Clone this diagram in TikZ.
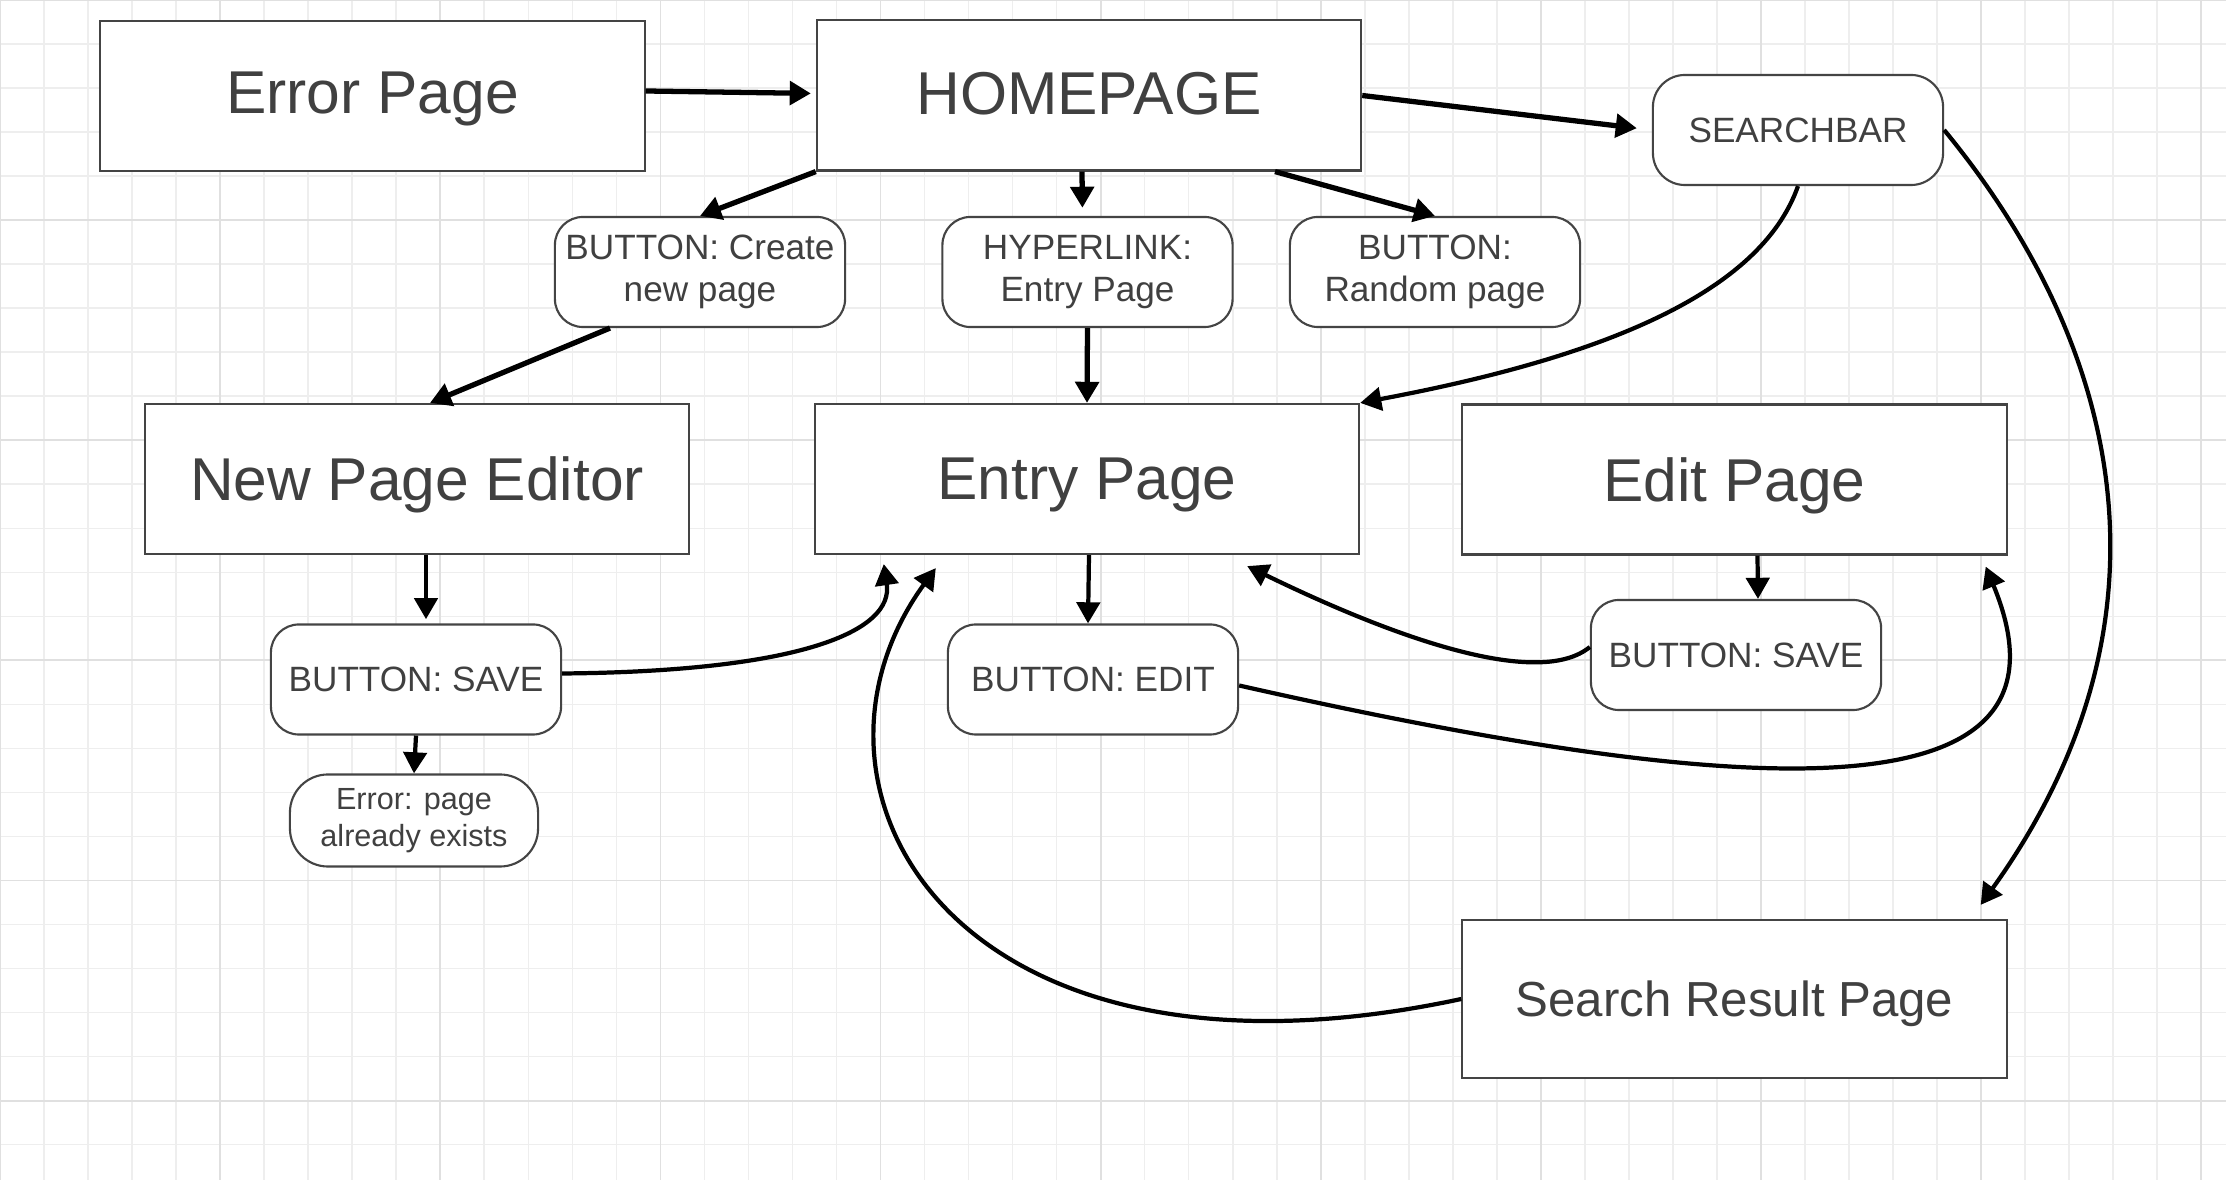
\documentclass[tikz,border=0pt]{standalone}
\usepackage{fontspec}
\setmainfont{Liberation Sans}
\usetikzlibrary{arrows.meta}
\definecolor{boxline}{HTML}{444444}
\definecolor{boxtext}{HTML}{404040}
\definecolor{gridminor}{HTML}{EEEEEE}
\definecolor{gridmajor}{HTML}{E0E0E0}

\begin{document}
\begin{tikzpicture}
[x=0.01cm,y=-0.01cm,
  every node/.style={draw=boxline,fill=white,line width=0.6pt,text=boxtext,inner sep=0pt,align=center},
  pagebox/.style={rectangle,minimum width=5.44cm,minimum height=1.5cm,text depth=0pt,font=\fontsize{17.2}{20}\selectfont},
  btnbox/.style={rectangle,rounded corners=0.28cm,minimum width=2.9cm,minimum height=1.1cm,font=\fontsize{10}{12.1}\selectfont},
  flowarrow/.style={-{Triangle[length=6pt,width=6.6pt]},line width=1.2pt,black},
  boldarrow/.style={flowarrow,line width=1.5pt}]
%
\useasboundingbox (0,0) rectangle (2226,1180);
\fill[white] (0,0) rectangle (2226,1180);
\draw[gridminor,line width=0.45pt,step=0.44cm] (0,1180) grid (2226,0);
\draw[gridmajor,line width=0.5pt,step=2.2cm] (0,1180) grid (2226,0);
%
\node[pagebox,text depth=0.18em] (errorpage) at (372.5,96) {Error Page};
\node[pagebox,text depth=0.1em] (homepage) at (1089,95.5) {HOMEPAGE};
\node[btnbox,rounded corners=0.32cm] (searchbar) at (1798,130) {SEARCHBAR};
\node[btnbox] (btncreate) at (700,272) {BUTTON: Create\\new page};
\node[btnbox] (hyperlink) at (1087.5,272) {HYPERLINK:\\Entry Page};
\node[btnbox] (btnrandom) at (1435,272) {BUTTON:\\Random page};
\node[pagebox] (neweditor) at (417,479) {New Page Editor};
\node[pagebox] (entrypage) at (1087,479) {Entry Page};
\node[pagebox] (editpage) at (1734.5,479.5) {Edit Page};
\node[btnbox] (btnsave) at (416,679.5) {BUTTON: SAVE};
\node[btnbox] (btnedit) at (1093,679.5) {BUTTON: EDIT};
\node[btnbox] (btnsaveedit) at (1736,655) {BUTTON: SAVE};
\node[btnbox,minimum width=2.48cm,minimum height=0.92cm,rounded corners=0.38cm,font=\fontsize{8.7}{10.5}\selectfont] (errexists) at (414,820.5) {Error: page\\already exists};
\node[pagebox,minimum height=1.58cm,font=\fontsize{14}{17}\selectfont] (searchresult) at (1734.5,999) {Search Result Page};
%
   \path[boldarrow,shorten >=1.4pt] ([shift={(0,-5)}]errorpage.east) edge ([shift={(0,-2)}]homepage.west);
   \path[boldarrow,shorten >=4.3pt] (homepage.east) edge (searchbar.west);
   \path[boldarrow] (homepage.south west) edge (btncreate.north);
   \path[boldarrow,shorten >=2.3pt] ([shift={(-7,0)}]homepage.south) edge ([shift={(-5,0)}]hyperlink.north);
   \path[boldarrow] ([shift={(186,0)}]homepage.south) edge (btnrandom.north);
   \path[boldarrow] ([shift={(-90,0)}]btncreate.south) edge ([shift={(13,0)}]neweditor.north);
   \path[boldarrow] (hyperlink.south) edge (entrypage.north);
   \path[flowarrow,shorten >=1.2pt] ([shift={(9,0)}]neweditor.south) edge ([shift={(10,0)}]btnsave.north);
   \path[flowarrow] (btnsave.south) edge (errexists.north);
   \path[flowarrow] ([shift={(2,0)}]entrypage.south) edge ([shift={(-5,0)}]btnedit.north);
   \path[flowarrow] ([shift={(23,0)}]editpage.south) edge ([shift={(22,0)}]btnsaveedit.north);
%
   \draw[flowarrow] (searchbar.south) .. controls +(-38,108) and +(240,-45) .. (entrypage.north east);
   \draw[flowarrow] (searchbar.east) .. controls +(177,215) and +(205,-286) .. ([shift={(-27,-14)}]searchresult.north east);
   \draw[flowarrow] ([shift={(0,-6)}]btnsave.east) .. controls +(239,-2) and +(10,67) .. ([shift={(70,9)}]entrypage.south west);
   \draw[flowarrow] ([shift={(0,-8)}]btnsaveedit.west) .. controls +(-50,41) and +(154,75) .. ([shift={(-113,11)}]entrypage.south east);
   \draw[flowarrow] ([shift={(0,6)}]btnedit.east) .. controls +(509,115) and +(105,254) .. ([shift={(-22,11)}]editpage.south east);
   \draw[flowarrow] (searchresult.west) .. controls +(-509,109) and +(-160,220) .. ([shift={(122,13)}]entrypage.south west);
\end{tikzpicture}
\end{document}
